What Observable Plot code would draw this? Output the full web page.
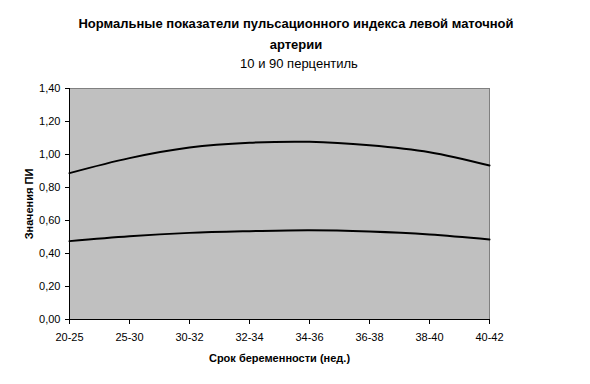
<!DOCTYPE html>
<html>
<head>
<meta charset="utf-8">
<script src="https://cdn.jsdelivr.net/npm/d3@7"></script>
<script src="https://cdn.jsdelivr.net/npm/@observablehq/plot@0.6"></script>
<style>
  body { margin: 0; background: #fff; font-family: "Liberation Sans", Arial, sans-serif; }
  #wrap { width: 590px; height: 384px; position: relative; }
  #title { position: absolute; left: 0; width: 592px; top: 13px; text-align: center; font-weight: bold; font-size: 13px; line-height: 21px; color: #000; }
  #subtitle { position: absolute; left: 0; width: 598px; top: 56px; text-align: center; font-size: 13px; color: #000; }
  #chart { position: absolute; left: 0; top: 72px; }
</style>
</head>
<body>
<div id="wrap">
  <div id="title">Нормальные показатели пульсационного индекса левой маточной<br>артерии</div>
  <div id="subtitle">10 и 90 перцентиль</div>
  <div id="chart"></div>
</div>
<script>
const categories = ["20-25", "25-30", "30-32", "32-34", "34-36", "36-38", "38-40", "40-42"];
const p90 = [0.887, 0.978, 1.042, 1.071, 1.077, 1.056, 1.014, 0.933];
const p10 = [0.475, 0.505, 0.525, 0.535, 0.541, 0.533, 0.515, 0.485];
const yTicks = [0, 0.2, 0.4, 0.6, 0.8, 1.0, 1.2, 1.4];

const upper = categories.map((c, i) => ({cat: c, v: p90[i]}));
const lower = categories.map((c, i) => ({cat: c, v: p10[i]}));
const fmt = d => d3.format(".2f")(d).replace(".", ",");

const chart = Plot.plot({
  width: 590,
  height: 312,
  marginTop: 16,
  marginBottom: 65,
  marginLeft: 69,
  marginRight: 101,
  style: {fontFamily: "'Liberation Sans', Arial, sans-serif", fontSize: "11px", color: "#000", background: "transparent"},
  x: {type: "point", domain: categories, padding: 0},
  y: {domain: [0, 1.4]},
  marks: [
    Plot.frame({fill: "#c0c0c0", stroke: "#808080"}),
    Plot.line(upper, {x: "cat", y: "v", curve: "catmull-rom", stroke: "#000", strokeWidth: 2}),
    Plot.line(lower, {x: "cat", y: "v", curve: "catmull-rom", stroke: "#000", strokeWidth: 2}),
    Plot.ruleX([categories[0]], {stroke: "#000"}),
    Plot.ruleY([0], {stroke: "#000"}),
    Plot.axisY({ticks: yTicks, tickFormat: fmt, tickSize: 4, tickPadding: 5, stroke: "#000", fill: "#000",
      label: "Значения ПИ", labelAnchor: "center", labelArrow: "none", labelOffset: 44,
      fontSize: 11}),
    Plot.axisX({tickSize: 5, tickPadding: 9, stroke: "#000", fill: "#000",
      label: "Срок беременности (нед.)", labelAnchor: "center", labelArrow: "none", labelOffset: 42, fontSize: 11})
  ]
});
chart.querySelectorAll("[aria-label='y-axis label'] text, [aria-label='x-axis label'] text").forEach(t => t.setAttribute("font-weight", "bold"));
document.getElementById("chart").appendChild(chart);
</script>
</body>
</html>
